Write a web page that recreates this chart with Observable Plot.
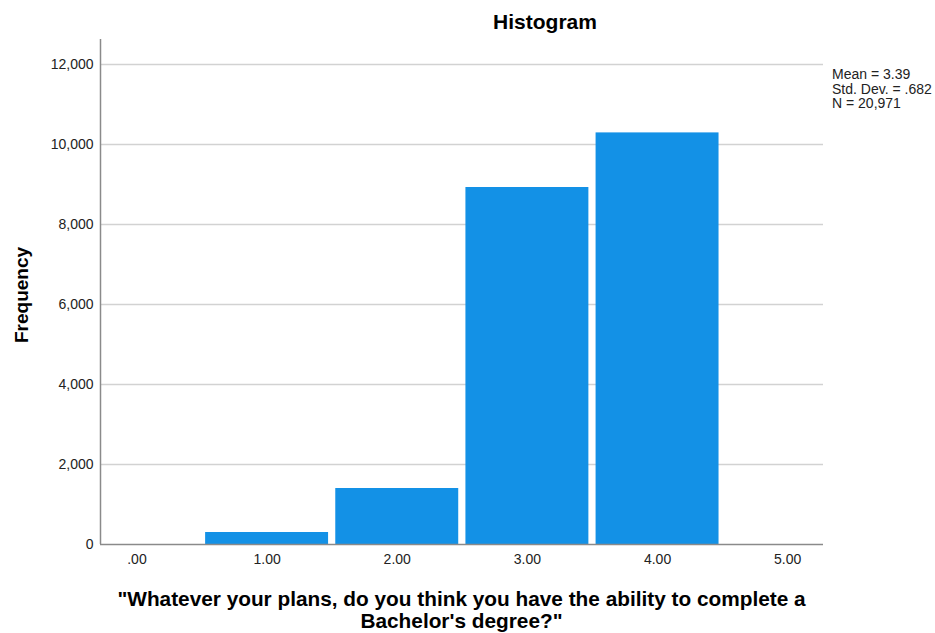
<!DOCTYPE html>
<html><head><meta charset="utf-8">
<script src="https://cdn.jsdelivr.net/npm/d3@7"></script>
<script src="https://cdn.jsdelivr.net/npm/@observablehq/plot@0.6"></script>
<style>body{margin:0;background:#fff;} svg{display:block}</style>
</head><body><div id="chart"></div>
<script>
const binValues = [0, 1, 2, 3, 4, 5];
const binCounts = [0, 300, 1400, 8925, 10290, 0];
const yTicks = [0, 2000, 4000, 6000, 8000, 10000, 12000];
const xTicks = [0, 1, 2, 3, 4, 5];
const chartTitle = "Histogram";
const xTitleLines = ["\"Whatever your plans, do you think you have the ability to complete a", "Bachelor's degree?\""];
const yTitle = "Frequency";
const statsLines = ["Mean = 3.39", "Std. Dev. = .682", "N = 20,971"];
const xDomain = [-0.28, 5.275];
const yDomain = [0, 12625];

const FONT = "'Liberation Sans', Arial, sans-serif";
const data = binValues.map((v, i) => ({v, count: binCounts[i]})).filter(d => d.count > 0);
const fmtX = d => d3.format(".2f")(d).replace(/^0\./, ".");

const plot = Plot.plot({
  width: 935, height: 633,
  marginTop: 39, marginLeft: 100, marginRight: 112, marginBottom: 89,
  style: {fontFamily: FONT, fontSize: "14px", color: "#222", background: "#fff"},
  x: {domain: xDomain},
  y: {domain: yDomain},
  marks: [
    Plot.gridY(yTicks.filter(t => t > 0), {stroke: "#d2d2d2", strokeOpacity: 1, strokeWidth: 1.5}),
    Plot.rectY(data, {x1: d => d.v - 0.5, x2: d => d.v + 0.5, y: "count", fill: "#1391e6", insetLeft: 3.6, insetRight: 3.6}),
    Plot.ruleY([0], {stroke: "#8a8a8a", strokeWidth: 1.5}),
    Plot.ruleX([xDomain[0]], {stroke: "#8a8a8a", strokeWidth: 1.5}),
    Plot.axisY(yTicks, {tickSize: 0, tickPadding: 7, tickFormat: d3.format(","), label: null, fontSize: 14}),
    Plot.axisX(xTicks, {tickSize: 0, tickPadding: 10, tickFormat: fmtX, label: null, fontSize: 14})
  ]
});

const svg = d3.select(plot);
const xr = plot.scale("x").range;
const cx = (xr[0] + xr[1]) / 2;

svg.append("text").attr("x", 545).attr("y", 29).attr("text-anchor", "middle")
  .attr("font-family", FONT).attr("font-weight", "bold").attr("font-size", 21).attr("fill", "#000")
  .text(chartTitle);

xTitleLines.forEach((t, i) => {
  svg.append("text").attr("x", cx).attr("y", 606 + i * 21.5).attr("text-anchor", "middle")
    .attr("font-family", FONT).attr("font-weight", "bold").attr("font-size", 20.8).attr("fill", "#000")
    .text(t);
});

svg.append("text").attr("transform", `translate(28,295) rotate(-90)`).attr("text-anchor", "middle")
  .attr("font-family", FONT).attr("font-weight", "bold").attr("font-size", 19).attr("fill", "#000")
  .text(yTitle);

statsLines.forEach((t, i) => {
  svg.append("text").attr("x", 832).attr("y", 79 + i * 14.5).attr("text-anchor", "start")
    .attr("font-family", FONT).attr("font-size", 14).attr("fill", "#222")
    .text(t);
});

document.getElementById("chart").appendChild(plot);
</script>
</body></html>
